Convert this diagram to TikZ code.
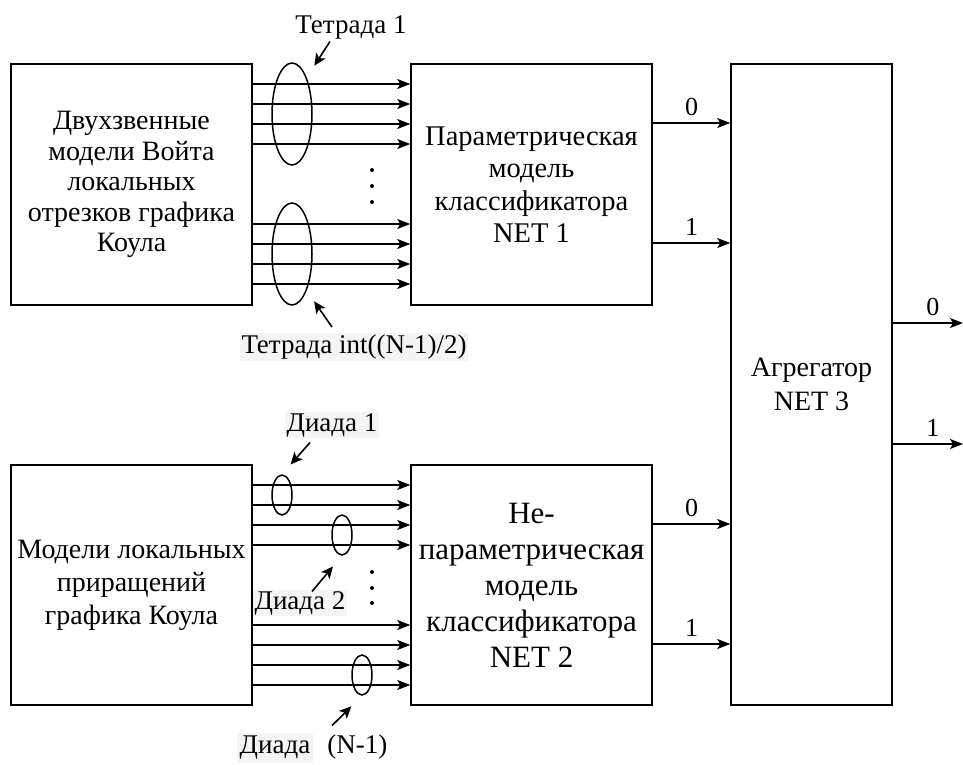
\documentclass[tikz,border=0pt]{standalone}
\usepackage{fontspec}
\setmainfont{Liberation Serif}
\usetikzlibrary{arrows.meta,positioning,shapes.geometric}
\definecolor{lblbg}{HTML}{F4F4F4}
\tikzset{
  ar/.style={-{Stealth[length=13pt,width=10pt,inset=3pt]},line width=1.5pt},
  ptr/.style={-{Stealth[length=12pt,width=11pt,inset=3pt]},line width=1.6pt},
  box/.style={draw,line width=1.5pt,align=center,inner sep=1pt,font=\fontsize{28}{30.5}\selectfont},
  lbl/.style={font=\fontsize{27}{30}\selectfont,inner sep=1.5pt},
  num/.style={font=\fontsize{26}{28}\selectfont,above=3pt},
  ell/.style={draw,ellipse,line width=1.5pt,inner sep=0pt}
}

\begin{document}
\begin{tikzpicture}[x=1pt,y=-1pt]
\useasboundingbox (0,0) rectangle (963,765);
% blocks
\node[box,minimum width=241pt,minimum height=241pt] (vojt) at (131.5,184.5) {Двухзвенные\\модели Войта\\локальных\\отрезков графика\\Коула};
\node[box,minimum width=241pt,minimum height=241pt,font=\fontsize{28.5}{32.5}\selectfont] (net1) at (531.5,184.5) {Параметрическая\\модель\\классификатора\\NET 1};
\node[box,minimum width=241pt,minimum height=240pt,font=\fontsize{28}{33}\selectfont] (incr) at (131.5,585) {Модели локальных\\приращений\\графика Коула};
\node[box,minimum width=241pt,minimum height=240pt,font=\fontsize{31}{36}\selectfont] (net2) at (531.5,585) {Не-\\параметрическая\\модель\\классификатора\\NET 2};
\node[box,minimum width=161pt,minimum height=641pt,font=\fontsize{28}{34}\selectfont] (agg) at (811.5,384.5) {Агрегатор\\NET 3};
% tetrads
\foreach \y in {84,104,124,144,224,244,264,284}
  \draw[ar] (vojt.east |- 0,\y) -- (net1.west |- 0,\y);
\node[ell,minimum width=40pt,minimum height=102pt] (tet1) at (292,114) {};
\node[ell,minimum width=40pt,minimum height=102pt] (tetn) at (292,254) {};
\foreach \y in {170,186,202} \fill (372,\y) circle (2pt);
\node[lbl] (ltet1) at (351,27) {Тетрада 1};
\node[lbl,fill=lblbg] (ltetn) at (354,347) {Тетрада int((N-1)/2)};
\draw[ptr,shorten >=14pt] (ltet1.south) ++(-21,1) -- (tet1.north east);
\draw[ptr,shorten >=13pt] (ltetn.north) ++(-22,-6) -- (tetn.south east);
% dyads
\foreach \y in {485,505,525,545,625,645,665,685}
  \draw[ar] (incr.east |- 0,\y) -- (net2.west |- 0,\y);
\node[ell,minimum width=20pt,minimum height=40pt] (dia1) at (282,495) {};
\node[ell,minimum width=20pt,minimum height=40pt] (dia2) at (342,535) {};
\node[ell,minimum width=20pt,minimum height=40pt] (dian) at (362,675) {};
\foreach \y in {572,588,603} \fill (372,\y) circle (2pt);
\node[lbl,fill=lblbg] (ldia1) at (332,425) {Диада 1};
\node[lbl,fill=lblbg] (ldia2) at (300,603) {Диада 2};
\node[lbl] (ldian) at (312,748) {\colorbox{lblbg}{Диада}\hspace{14pt}(N-1)};
\draw[ptr,shorten >=13pt] (ldia1.south) ++(-22,4) -- (dia1.north);
\draw[ptr,shorten >=14pt] (ldia2.north) ++(12,2) -- (dia2.south);
\draw[ptr,shorten >=15pt] (ldian.north) ++(20,-6) -- (dian.south);
% outputs
\draw[ar] (net1.east |- 0,123) -- node[num]{0} (agg.west |- 0,123);
\draw[ar] (net1.east |- 0,243) -- node[num]{1} (agg.west |- 0,243);
\draw[ar] (net2.east |- 0,524) -- node[num]{0} (agg.west |- 0,524);
\draw[ar] (net2.east |- 0,644) -- node[num]{1} (agg.west |- 0,644);
\coordinate (out0) at (963,323);
\coordinate (out1) at (963,444);
\draw[ar] (agg.east |- out0) -- node[num,pos=0.57]{0} (out0);
\draw[ar] (agg.east |- out1) -- node[num,pos=0.57]{1} (out1);
\end{tikzpicture}
\end{document}
